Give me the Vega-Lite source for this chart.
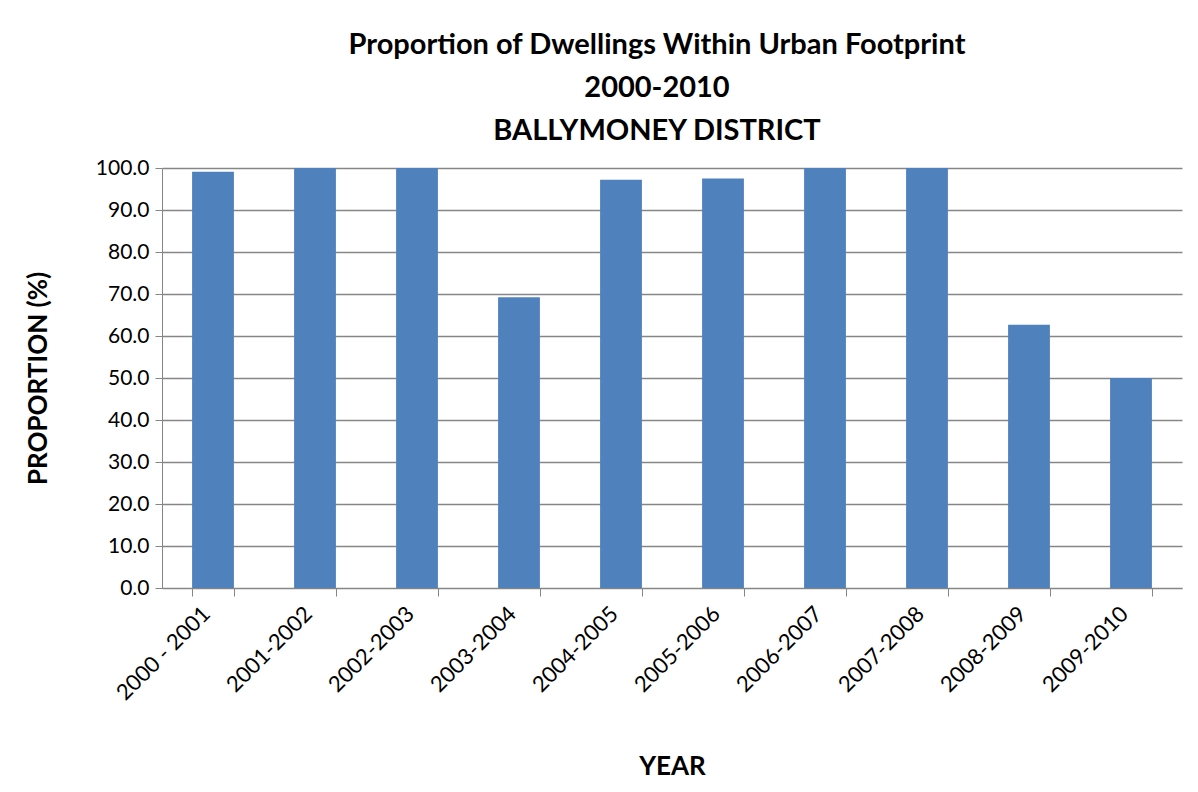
{
  "$schema": "https://vega.github.io/schema/vega-lite/v6.json",
  "width": 1020,
  "height": 420,
  "autosize": {"type": "none"},
  "padding": {"left": 162, "top": 168, "right": 16, "bottom": 204},
  "background": "white",
  "title": {
    "text": ["Proportion of Dwellings Within Urban Footprint", "2000-2010", "BALLYMONEY DISTRICT"],
    "font": "Lato",
    "fontSize": 29,
    "fontWeight": "bold",
    "color": "#000000",
    "lineHeight": 43,
    "anchor": "middle",
    "dx": -15,
    "offset": 11
  },
  "data": {
    "values": [
      {"year": "2000 - 2001", "proportion": 99.1},
      {"year": "2001-2002", "proportion": 100.0},
      {"year": "2002-2003", "proportion": 100.0},
      {"year": "2003-2004", "proportion": 69.2},
      {"year": "2004-2005", "proportion": 97.2},
      {"year": "2005-2006", "proportion": 97.5},
      {"year": "2006-2007", "proportion": 100.0},
      {"year": "2007-2008", "proportion": 100.0},
      {"year": "2008-2009", "proportion": 62.7},
      {"year": "2009-2010", "proportion": 50.0}
    ]
  },
  "mark": {"type": "bar", "color": "#4F81BD"},
  "encoding": {
    "x": {
      "field": "year",
      "type": "nominal",
      "sort": null,
      "scale": {"paddingInner": 0.59, "paddingOuter": 0.295},
      "axis": {
        "title": "YEAR",
        "labelAngle": -45,
        "labelFont": "Lato",
        "labelFontSize": 22,
        "labelColor": "#000000",
        "labelOffset": -14,
        "labelPadding": 7,
        "titleFont": "Lato",
        "titleFontSize": 26,
        "titleFontWeight": "bold",
        "titleColor": "#000000",
        "titlePadding": 50,
        "domainColor": "#868686",
        "tickColor": "#868686",
        "tickBand": "extent",
        "tickSize": 8,
        "grid": false
      }
    },
    "y": {
      "field": "proportion",
      "type": "quantitative",
      "scale": {"domain": [0, 100], "nice": false},
      "axis": {
        "title": "PROPORTION (%)",
        "values": [0, 10, 20, 30, 40, 50, 60, 70, 80, 90, 100],
        "format": ".1f",
        "labelFont": "Lato",
        "labelFontSize": 21,
        "labelColor": "#000000",
        "titleFont": "Lato",
        "titleFontSize": 26,
        "titleFontWeight": "bold",
        "titleColor": "#000000",
        "titlePadding": 44,
        "domainColor": "#868686",
        "tickColor": "#868686",
        "tickSize": 7,
        "labelPadding": 6,
        "gridColor": "#868686",
        "gridWidth": 1.5
      }
    }
  },
  "config": {"view": {"stroke": null}}
}
